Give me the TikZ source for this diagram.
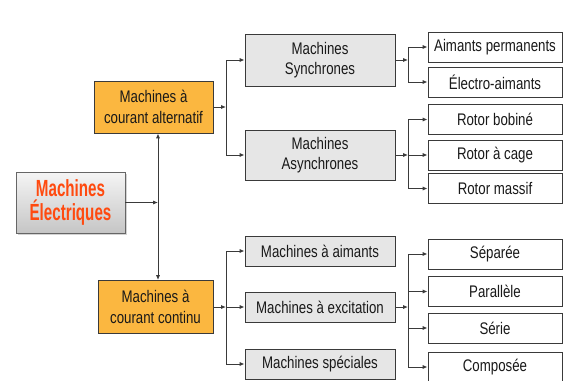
\documentclass[tikz,border=0pt]{standalone}
\usepackage{fontspec}
\setmainfont{Liberation Sans}[FakeStretch=0.79]
\newfontfamily\titlefont{Liberation Sans}[FakeStretch=0.65]
\usetikzlibrary{arrows.meta,shadows}
\definecolor{orbox}{HTML}{FBB740}
\definecolor{graybox}{HTML}{E6E6E6}
\definecolor{edge}{HTML}{3A3A3A}
\definecolor{titlecol}{HTML}{FF4A0F}
\begin{document}
\begin{tikzpicture}[x=0.75pt,y=-0.75pt,
  base/.style={draw=edge, line width=0.7pt, inner sep=0pt, align=center,
    font=\fontsize{12.6}{15.4}\selectfont, text=black!90},
  orangebox/.style={base, fill=orbox, minimum height=39pt},
  midbox/.style={base, fill=graybox, minimum width=112.5pt},
  leafbox/.style={base, fill=white, minimum width=100.5pt, minimum height=22.5pt},
  arr/.style={draw=edge, line width=0.7pt, -{Latex[length=3.6pt,width=3pt]}},
  ln/.style={draw=edge, line width=0.7pt}]
\useasboundingbox (0,0) rectangle (563,381);

% root
\node[draw=gray!80!black, line width=0.7pt, top color=gray!8, bottom color=gray!45,
  drop shadow={shadow xshift=1.5pt, shadow yshift=-1.5pt, opacity=0.35},
  minimum width=81.75pt, minimum height=45.75pt, inner sep=0pt, align=center,
  font=\titlefont\bfseries\fontsize{17.5}{18}\selectfont, text=titlecol]
  (elec) at (70.5,202.5) {Machines\\Électriques};

% level 1
\node[orangebox, minimum width=89.25pt] (ac) at (153.5,107) {Machines à\\courant alternatif};
\node[orangebox, minimum width=86.25pt, minimum height=39.75pt] (dc) at (155.5,307) {Machines à\\courant continu};

% level 2
\node[midbox, minimum height=39pt] (syn) at (320,60) {Machines\\Synchrones};
\node[midbox, minimum height=37.5pt] (asyn) at (320,155) {Machines\\Asynchrones};
\node[midbox, minimum height=22.5pt] (aim) at (320,251) {Machines à aimants};
\node[midbox, minimum height=22.5pt] (exc) at (320,307) {Machines à excitation};
\node[midbox, minimum height=22.5pt] (spe) at (320,364) {Machines spéciales};

% level 3
\node[leafbox] (ap) at (495,47) {Aimants permanents};
\node[leafbox] (ea) at (495,82) {Électro-aimants};
\node[leafbox] (rb) at (495,119.5) {Rotor bobiné};
\node[leafbox] (rc) at (495,155) {Rotor à cage};
\node[leafbox] (rm) at (495,188.5) {Rotor massif};
\node[leafbox] (sep) at (495,254) {Séparée};
\node[leafbox] (par) at (495,291.5) {Parallèle};
\node[leafbox] (ser) at (495,328) {Série};
\node[leafbox] (com) at (495,367) {Composée};

% junctions
\coordinate (j0) at (158,202.5);
\coordinate (ja) at (226,107);
\coordinate (jd) at (226,307);
\coordinate (js) at (408,60);
\coordinate (jas) at (408,155);
\coordinate (jx) at (408,307);

% connectors
\draw[arr] (elec.east) -- (j0);
\draw[arr] (j0) -- (j0 |- ac.south);
\draw[arr] (j0) -- (j0 |- dc.north);

\draw[arr] (ac.east) -- (ja);
\draw[arr] (ja) |- (syn.west);
\draw[arr] (ja) |- (asyn.west);

\draw[arr] (dc.east) -- (jd);
\draw[arr] (jd) |- (aim.west);
\draw[arr] (jd) -- (exc.west);
\draw[arr] (jd) |- (spe.west);

\draw[arr] (syn.east) -- (js);
\draw[arr] (js) |- (ap.west);
\draw[arr] (js) |- (ea.west);

\draw[arr] (asyn.east) -- (jas);
\draw[arr] (jas) |- (rb.west);
\draw[arr] (jas) -- (rc.west);
\draw[arr] (jas) |- (rm.west);

\draw[arr] (exc.east) -- (jx);
\draw[arr] (jx) |- (sep.west);
\draw[arr] (jx) |- (par.west);
\draw[arr] (jx) |- (ser.west);
\draw[arr] (jx) |- (com.west);
\end{tikzpicture}
\end{document}
